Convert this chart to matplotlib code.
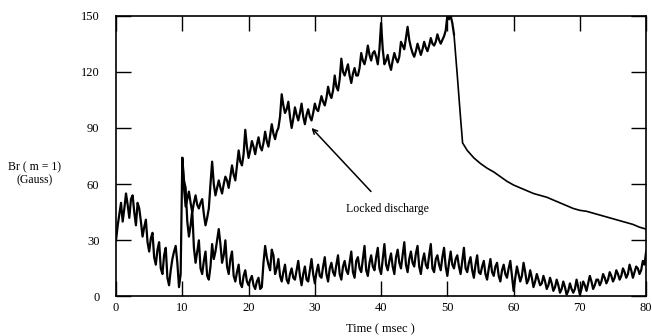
import numpy as np
import matplotlib
matplotlib.use("Agg")
import matplotlib.pyplot as plt

plt.rcParams['font.family'] = ['Liberation Serif', 'DejaVu Serif']

## lower trace, 0 - 80 msec, read every 0.5 msec
lower = [30, 44, 40, 55, 42, 54, 38, 47, 32, 41, 24, 34, 17, 29, 12, 26, 6, 20, 27, 5,
         74, 58, 32, 46, 18, 30, 12, 24, 9, 28, 24, 36, 18, 30, 12, 24, 8, 17, 5, 14,
         6, 11, 4, 10, 5, 27, 17, 25, 12, 20, 8, 17, 7, 15, 9, 19, 6, 16, 8, 20,
         7, 17, 10, 21, 8, 18, 11, 22, 9, 19, 12, 24, 10, 21, 13, 27, 11, 22, 14, 26,
         12, 28, 14, 23, 12, 25, 15, 29, 13, 24, 16, 27, 12, 23, 15, 28, 13, 22, 14, 26,
         11, 24, 15, 22, 12, 26, 13, 21, 10, 22, 12, 19, 9, 20, 11, 18, 8, 17, 10, 19,
         3, 16, 8, 18, 7, 14, 5, 12, 6, 11, 4, 10, 3, 9, 2, 8, 1, 7, 2, 9,
         1, 8, 3, 11, 4, 9, 6, 12, 7, 13, 8, 14, 9, 15, 10, 17, 10, 16, 12, 19, 24]
## same trace, readings in between (0.25, 0.75, ... msec)
lower_mid = [38, 50, 47, 49, 52, 45, 50, 40, 37, 29, 31, 21, 25, 15, 22, 10, 14, 24, 18, 12,
             62, 40, 38, 26, 24, 15, 19, 11, 16, 20, 30, 28, 22, 16, 20, 11, 13, 7, 11, 8,
             9, 6, 8, 4, 18, 21, 14, 22, 15, 11, 13, 9, 12, 10, 14, 11, 12, 9, 14, 12,
             13, 11, 16, 12, 15, 13, 17, 12, 16, 14, 18, 13, 19, 15, 20, 14, 18, 16, 21, 15,
             20, 17, 19, 16, 21, 18, 22, 17, 20, 18, 23, 16, 19, 17, 22, 15, 20, 17, 21, 16,
             18, 17, 20, 16, 19, 15, 18, 14, 17, 13, 16, 12, 15, 13, 16, 11, 14, 12, 15, 11,
             10, 12, 11, 13, 9, 10, 8, 9, 7, 8, 6, 7, 5, 6, 4, 5, 3, 4, 4, 5,
             4, 6, 7, 8, 6, 9, 8, 10, 9, 11, 10, 12, 11, 13, 12, 14, 13, 15, 14, 17]

## upper trace (locked discharge), 10 - 51 msec, every 0.5 msec
upper = [74, 48, 56, 45, 54, 47, 52, 38, 47, 72, 54, 62, 55, 64, 58, 70, 62, 78, 70, 89,
         74, 83, 76, 85, 78, 88, 80, 92, 84, 90, 108, 98, 104, 90, 101, 94, 103, 92, 100, 94,
         103, 99, 107, 102, 112, 106, 118, 110, 127, 118, 124, 114, 122, 118, 130, 124, 134, 126, 131, 124,
         146, 124, 129, 121, 130, 125, 136, 132, 144, 133, 128, 135, 129, 136, 131, 138, 134, 140, 135, 139,
         150, 150, 140]
upper_mid = [58, 52, 50, 50, 49, 50, 44, 42, 60, 60, 58, 58, 60, 62, 64, 65, 70, 72, 76, 80,
             78, 80, 81, 80, 82, 83, 86, 87, 88, 96, 102, 100, 96, 95, 97, 98, 96, 97, 96, 98,
             100, 103, 104, 106, 108, 110, 112, 116, 120, 121, 118, 119, 118, 122, 126, 128, 129, 130, 128, 132,
             132, 126, 124, 126, 127, 128, 134, 138, 137, 130, 131, 132, 132, 133, 134, 135, 136, 137, 137, 142,
             148, 146]

## after unlocking: drop and smooth decay
decay_t = [51.0, 51.5, 52.0, 52.3, 53, 54, 55, 56, 57, 58, 59, 60, 61, 62, 63, 64, 65, 66,
           67, 68, 69, 70, 71, 72, 73, 74, 75, 76, 77, 78, 79, 80]
decay = [140, 118, 95, 82, 78, 74, 71, 68.5, 66.5, 64, 61.5, 59.5, 58, 56.5, 55, 54, 53, 51.5,
         50, 48.5, 47, 46, 45.5, 44.5, 43.5, 42.5, 41.5, 40.5, 39.5, 38.5, 37, 36]

xticks = [0, 10, 20, 30, 40, 50, 60, 70, 80]
yticks = [0, 30, 60, 90, 120, 150]


def merge(t0, t1, a, b):
    # put the two sets of readings back in time order
    t = np.concatenate([np.linspace(t0, t1, len(a)),
                        np.linspace(t0 + 0.25, t1 - 0.25, len(b))])
    v = np.concatenate([a, b])
    k = np.argsort(t)
    return t[k], v[k]


lo_t, lo_v = merge(0, 80, lower, lower_mid)
up_t, up_v = merge(10, 51, upper, upper_mid)

fig = plt.figure(figsize=(6.52, 3.36), dpi=100)
ax = fig.add_axes([0.178, 0.1176, 0.813, 0.836])

ax.plot(lo_t, lo_v, color='k', lw=1.6)
ax.plot(up_t, up_v, color='k', lw=1.6)
ax.plot(decay_t, decay, color='k', lw=1.2)

ax.set_xlim(0, 80)
ax.set_ylim(0, 150)
ax.set_xticks(xticks)
ax.set_yticks(yticks)
ax.tick_params(direction='in', length=11, width=1, top=True, right=True,
               labelsize=9)
ax.tick_params(axis='y', pad=12)
ax.tick_params(axis='x', pad=4)
for s in ax.spines.values():
    s.set_linewidth(1.2)

ax.annotate('Locked discharge', xy=(29.5, 90), xytext=(41, 46.5),
            ha='center', va='center', fontsize=8.5,
            arrowprops=dict(arrowstyle='->', color='k', lw=1.1,
                            shrinkA=9, shrinkB=0))

fig.text(35 / 652, 1 - 174 / 336, 'Br ( m = 1)\n(Gauss)', ha='center', va='center',
         fontsize=8.5, linespacing=1.1)
fig.text(380 / 652, 1 - 329 / 336, 'Time ( msec )', ha='center', va='center',
         fontsize=9)

fig.savefig('out.png', dpi=100)
